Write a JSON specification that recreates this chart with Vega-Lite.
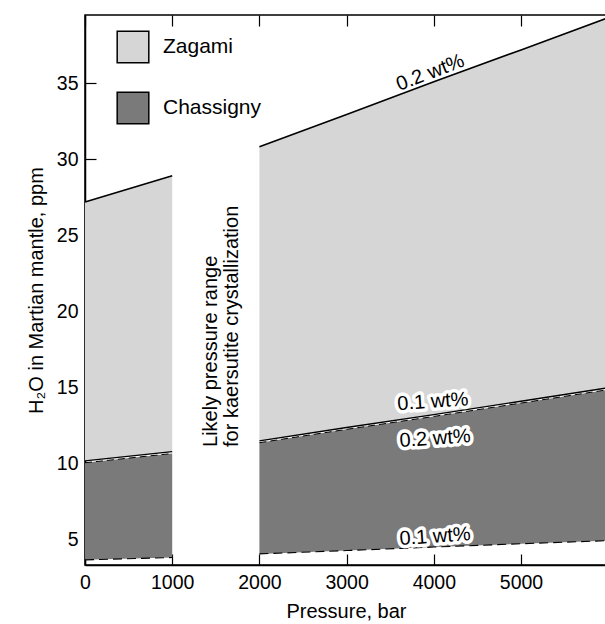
{
  "$schema": "https://vega.github.io/schema/vega-lite/v6.json",
  "width": 522,
  "height": 550,
  "autosize": "none",
  "padding": {"left": 85, "top": 15, "right": 0, "bottom": 59},
  "background": "white",
  "config": {
    "font": "Liberation Sans",
    "view": {"stroke": "black", "strokeWidth": 1.5},
    "axis": {"labelFont": "Liberation Sans", "titleFont": "Liberation Sans", "labelColor": "black", "titleColor": "black", "tickColor": "black", "domainColor": "black", "grid": false, "labelFontSize": 19.5, "titleFontSize": 20, "titleFontWeight": "normal", "tickWidth": 1.2, "domainWidth": 1.5}
  },
  "datasets": {
    "bands": [
      {"p": 0, "seg": "a", "sample": "Zagami", "hi": 27.19, "lo": 10.15},
      {"p": 1000, "seg": "a", "sample": "Zagami", "hi": 28.92, "lo": 10.76},
      {"p": 2000, "seg": "b", "sample": "Zagami", "hi": 30.83, "lo": 11.47},
      {"p": 3000, "seg": "b", "sample": "Zagami", "hi": 32.95, "lo": 12.35},
      {"p": 4000, "seg": "b", "sample": "Zagami", "hi": 35.1, "lo": 13.2},
      {"p": 5000, "seg": "b", "sample": "Zagami", "hi": 37.2, "lo": 14.08},
      {"p": 5986, "seg": "b", "sample": "Zagami", "hi": 39.3, "lo": 14.95},
      {"p": 0, "seg": "a", "sample": "Chassigny", "hi": 10.03, "lo": 3.64},
      {"p": 1000, "seg": "a", "sample": "Chassigny", "hi": 10.64, "lo": 3.79},
      {"p": 2000, "seg": "b", "sample": "Chassigny", "hi": 11.35, "lo": 4.03},
      {"p": 3000, "seg": "b", "sample": "Chassigny", "hi": 12.23, "lo": 4.25},
      {"p": 4000, "seg": "b", "sample": "Chassigny", "hi": 13.08, "lo": 4.48},
      {"p": 5000, "seg": "b", "sample": "Chassigny", "hi": 13.96, "lo": 4.7},
      {"p": 5986, "seg": "b", "sample": "Chassigny", "hi": 14.83, "lo": 4.9}
    ],
    "labels": [
      {"kind": "top", "p": 3960, "v": 35.7, "text": "0.2 wt%"},
      {"kind": "z01", "p": 3990, "v": 14.05, "text": "0.1 wt%"},
      {"kind": "c02", "p": 4014, "v": 11.62, "text": "0.2 wt%"},
      {"kind": "c01", "p": 4014, "v": 5.17, "text": "0.1 wt%"}
    ],
    "note": [
      {"p": 1440, "v": 11.07, "text": ["Likely pressure range", "for kaersutite crystallization"]}
    ]
  },
  "layer": [
    {
      "data": {"name": "bands"},
      "mark": {"type": "area", "opacity": 1},
      "encoding": {
        "x": {"field": "p", "type": "quantitative", "scale": {"domain": [0, 5986], "nice": false, "zero": false}, "axis": {"title": "Pressure, bar", "values": [0, 1000, 2000, 3000, 4000, 5000], "format": "d", "tickSize": -11, "labelPadding": 19, "titlePadding": 10, "labelFlush": false}},
        "y": {"field": "hi", "type": "quantitative", "scale": {"domain": [3.3, 39.5], "nice": false, "zero": false}, "axis": {"title": "H₂O in Martian mantle, ppm", "values": [5, 10, 15, 20, 25, 30, 35], "tickSize": -11, "labelPadding": 18, "titlePadding": 10, "labelFlush": false}},
        "y2": {"field": "lo"},
        "detail": {"field": "seg"},
        "color": {"field": "sample", "type": "nominal", "scale": {"domain": ["Zagami", "Chassigny"], "range": ["#d6d6d6", "#7a7a7a"]},
          "legend": {"title": null, "orient": "none", "legendX": 31, "legendY": 15, "padding": 0, "symbolType": "square", "symbolSize": 1000, "symbolStrokeColor": "black", "symbolStrokeWidth": 1.5, "symbolOpacity": 1, "labelFontSize": 21, "labelFont": "Liberation Sans", "labelColor": "black", "labelOffset": 13, "rowPadding": 23, "labelLimit": 300}}
      }
    },
    {
      "data": {"name": "bands"},
      "transform": [{"filter": "datum.sample === 'Zagami'"}],
      "mark": {"type": "line", "color": "black", "strokeWidth": 1.6},
      "encoding": {
        "x": {"field": "p", "type": "quantitative", "axis": {"orient": "top", "labels": false, "title": null, "values": [0, 1000, 2000, 3000, 4000, 5000], "tickSize": -11, "domain": false}},
        "y": {"field": "hi", "type": "quantitative", "axis": {"orient": "right", "labels": false, "title": null, "values": [5, 10, 15, 20, 25, 30, 35], "tickSize": -11, "domain": false}},
        "detail": {"field": "seg"}
      }
    },
    {
      "data": {"name": "bands"},
      "transform": [{"filter": "datum.sample === 'Zagami'"}],
      "mark": {"type": "line", "color": "black", "strokeWidth": 1.4},
      "encoding": {
        "x": {"field": "p", "type": "quantitative", "axis": null},
        "y": {"field": "lo", "type": "quantitative", "axis": null},
        "detail": {"field": "seg"}
      }
    },
    {
      "data": {"name": "bands"},
      "transform": [{"filter": "datum.sample === 'Chassigny'"}],
      "mark": {"type": "line", "color": "black", "strokeWidth": 1, "strokeDash": [7, 4]},
      "encoding": {
        "x": {"field": "p", "type": "quantitative", "axis": null},
        "y": {"field": "hi", "type": "quantitative", "axis": null},
        "detail": {"field": "seg"}
      }
    },
    {
      "data": {"name": "bands"},
      "transform": [{"filter": "datum.sample === 'Chassigny'"}],
      "mark": {"type": "line", "color": "black", "strokeWidth": 1.1, "strokeDash": [9, 5]},
      "encoding": {
        "x": {"field": "p", "type": "quantitative", "axis": null},
        "y": {"field": "lo", "type": "quantitative", "axis": null},
        "detail": {"field": "seg"}
      }
    },
    {
      "data": {"name": "labels"},
      "transform": [{"filter": "datum.kind === 'top'"}],
      "mark": {"type": "text", "fontSize": 20, "font": "Liberation Sans", "color": "black", "angle": 339, "align": "center", "baseline": "middle"},
      "encoding": {
        "x": {"field": "p", "type": "quantitative", "axis": null},
        "y": {"field": "v", "type": "quantitative", "axis": null},
        "text": {"field": "text"}
      }
    },
    {
      "data": {"name": "labels"},
      "transform": [{"filter": "datum.kind !== 'top'"}],
      "mark": {"type": "text", "fontSize": 20, "font": "Liberation Sans", "color": "white", "stroke": "white", "strokeWidth": 7, "strokeJoin": "round", "angle": 356, "align": "center", "baseline": "middle"},
      "encoding": {
        "x": {"field": "p", "type": "quantitative", "axis": null},
        "y": {"field": "v", "type": "quantitative", "axis": null},
        "text": {"field": "text"}
      }
    },
    {
      "data": {"name": "labels"},
      "transform": [{"filter": "datum.kind !== 'top'"}],
      "mark": {"type": "text", "fontSize": 20, "font": "Liberation Sans", "color": "black", "angle": 356, "align": "center", "baseline": "middle"},
      "encoding": {
        "x": {"field": "p", "type": "quantitative", "axis": null},
        "y": {"field": "v", "type": "quantitative", "axis": null},
        "text": {"field": "text"}
      }
    },
    {
      "data": {"name": "note"},
      "mark": {"type": "text", "fontSize": 20, "font": "Liberation Sans", "color": "black", "angle": 270, "align": "left", "baseline": "middle", "lineHeight": 21},
      "encoding": {
        "x": {"field": "p", "type": "quantitative", "axis": null},
        "y": {"field": "v", "type": "quantitative", "axis": null},
        "text": {"field": "text"}
      }
    }
  ],
  "resolve": {"axis": {"x": "independent", "y": "independent"}}
}
